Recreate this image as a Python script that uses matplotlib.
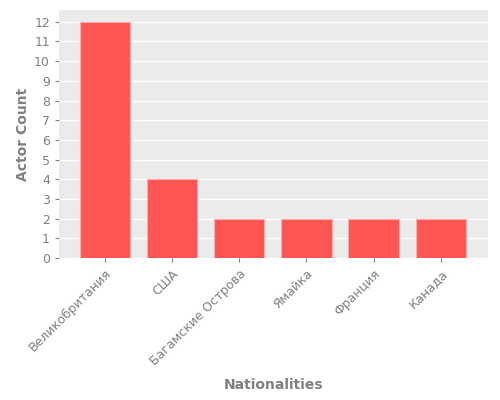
import matplotlib
matplotlib.use('Agg')
import matplotlib.pyplot as plt

nationalities = ['Великобритания', 'США', 'Багамские Острова', 'Ямайка', 'Франция', 'Канада']
actor_counts = [12, 4, 2, 2, 2, 2]

plt.rcParams['font.family'] = ['DejaVu Sans']
fig = plt.figure(figsize=(5, 4), dpi=100)
ax = fig.add_axes([0.118, 0.355, 0.858, 0.62])
ax.set_facecolor('#ebebeb')
for s in ax.spines.values():
    s.set_visible(False)
ax.yaxis.grid(True, color='white', linewidth=1)
ax.set_axisbelow(True)

x = range(len(nationalities))
ax.bar(x, actor_counts, width=0.75, color='#ff5555', edgecolor='#ffaaaa', linewidth=0.8)
ax.set_xticks(list(x))
ax.set_xticklabels(nationalities, rotation=45, ha='right', rotation_mode='anchor')
ax.set_yticks(range(0, 13))
ax.set_xlim(-0.68, 5.7)
ax.set_ylim(0, 12.6)
ax.tick_params(colors='#808080', labelcolor='#808080', labelsize=9, length=3)
ax.set_xlabel('Nationalities', color='#808080', fontsize=10, fontweight='bold', labelpad=7)
ax.set_ylabel('Actor Count', color='#808080', fontsize=10, fontweight='bold', labelpad=3)

fig.savefig('out.png', dpi=100)
